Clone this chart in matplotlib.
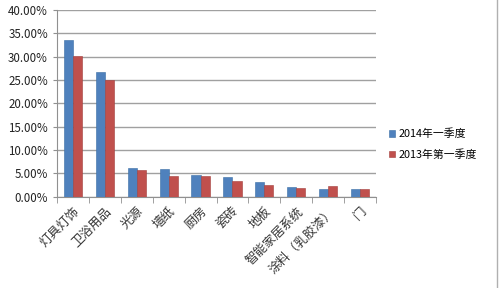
import matplotlib.pyplot as plt
import numpy as np
from matplotlib.ticker import FuncFormatter

plt.rcParams['font.family'] = ['Noto Sans CJK SC', 'DejaVu Sans']

categories = ['灯具灯饰', '卫浴用品', '光源', '墙纸', '厨房', '瓷砖', '地板',
              '智能家居系统', '涂料（乳胶漆）', '门']
q2014 = [33.5, 26.8, 6.2, 5.85, 4.55, 4.1, 3.2, 2.1, 1.7, 1.55]
q2013 = [30.1, 25.05, 5.6, 4.4, 4.35, 3.4, 2.55, 1.75, 2.2, 1.55]
series_names = ['2014年一季度', '2013年第一季度']

fig = plt.figure(figsize=(5, 2.88), dpi=100)
ax = fig.add_axes([57 / 500, 1 - 196.5 / 288, 319 / 500, 186.5 / 288])

x = np.arange(len(categories))
w = 0.285
ax.bar(x - w / 2, q2014, w, color='#4F81BD', edgecolor='#3a6ea5', linewidth=0.4,
       label=series_names[0], zorder=3)
ax.bar(x + w / 2, q2013, w, color='#C0504D', edgecolor='#a33e3b', linewidth=0.4,
       label=series_names[1], zorder=3)

ax.set_xlim(-0.5, len(categories) - 0.5)
ax.set_ylim(0, 40)
ax.set_yticks(np.arange(0, 41, 5))
ax.yaxis.set_major_formatter(FuncFormatter(lambda v, p: '%.2f%%' % v))
ax.yaxis.grid(True, color='#a0a0a0', linewidth=1)
ax.set_axisbelow(True)

ax.set_xticks(x)
ax.set_xticklabels(categories, rotation=45, ha='right', va='top',
                   rotation_mode='anchor', fontsize=9, color='#333333')
ax.tick_params(axis='x', length=0, pad=6)
ax.set_xticks(np.arange(-0.5, len(categories)), minor=True)
ax.tick_params(axis='x', which='minor', length=4, color='#909090')
ax.tick_params(axis='y', length=3, color='#909090', labelsize=8.3, labelcolor='#222222')

for s in ['top', 'right']:
    ax.spines[s].set_visible(False)
ax.spines['left'].set_color('#909090')
ax.spines['bottom'].set_color('#909090')

ax.legend(loc='center left', bbox_to_anchor=(1.01, 0.28), frameon=False,
          fontsize=7.8, handlelength=0.6, handleheight=0.6, handletextpad=0.3,
          labelspacing=0.9)

fig.add_artist(plt.Line2D([497 / 500, 497 / 500], [0, 1], color='#b0b0b0', linewidth=1))

fig.savefig('out.png', dpi=100)
